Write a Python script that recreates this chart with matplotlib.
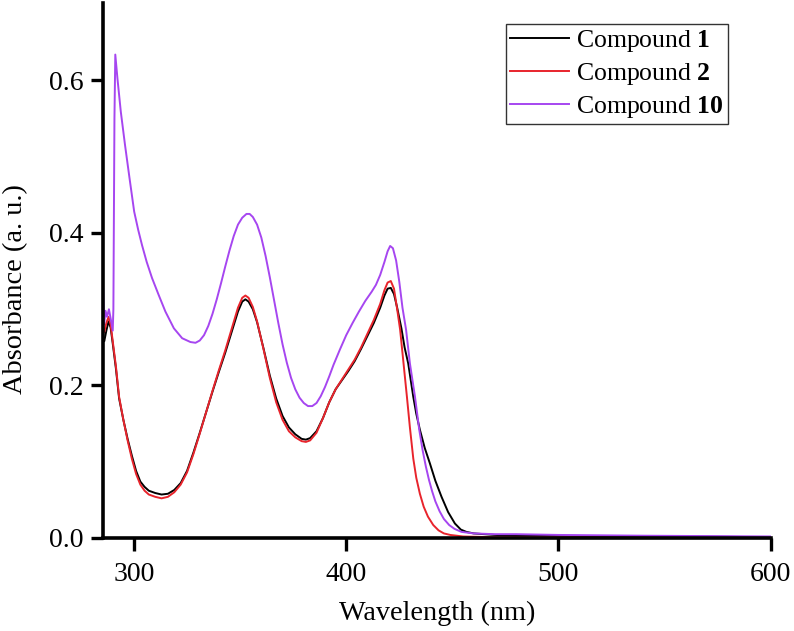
import matplotlib
matplotlib.use("Agg")
import matplotlib.pyplot as plt

plt.rcParams['font.family'] = ['Liberation Serif', 'DejaVu Serif']
plt.rcParams['mathtext.fontset'] = 'custom'
plt.rcParams['mathtext.rm'] = 'Liberation Serif'
plt.rcParams['mathtext.bf'] = 'Liberation Serif:bold'

# Compound 1 (black)
wl_1 = [285.4, 286, 287, 288, 289, 290, 291.5, 293, 295, 297, 299, 301, 303, 305, 307, 310, 313, 316, 319, 322,
        325, 328, 331, 334, 337, 340, 343, 346, 349, 351, 352.5, 354, 356, 358, 361, 364, 367, 370, 373, 376,
        379, 381, 383, 386, 389, 392, 395, 398, 401, 404, 407, 410, 413, 416, 418, 419.5, 421, 422.5, 424, 426,
        427.5, 429.2, 431.6, 433, 434.7, 437, 439.4, 442, 444.9, 448, 451.2, 454, 456.6, 460, 470, 480, 500, 530,
        560, 600]
abs_1 = [0.262, 0.258, 0.272, 0.284, 0.276, 0.255, 0.222, 0.183, 0.155, 0.130, 0.108, 0.088, 0.074, 0.067, 0.062,
         0.059, 0.057, 0.058, 0.063, 0.072, 0.088, 0.112, 0.138, 0.165, 0.192, 0.218, 0.243, 0.270, 0.297, 0.310,
         0.313, 0.310, 0.300, 0.283, 0.249, 0.213, 0.183, 0.160, 0.145, 0.136, 0.130, 0.129, 0.131, 0.140, 0.157,
         0.178, 0.195, 0.207, 0.219, 0.232, 0.248, 0.265, 0.282, 0.302, 0.318, 0.327, 0.328, 0.320, 0.302, 0.275,
         0.250, 0.229, 0.185, 0.163, 0.142, 0.118, 0.098, 0.075, 0.054, 0.034, 0.019, 0.011, 0.008, 0.006, 0.004,
         0.003, 0.003, 0.002, 0.002, 0.001]

# Compound 2 (red)
wl_2 = [285.4, 286, 287, 288, 289, 290, 291.5, 293, 295, 297, 299, 301, 303, 305, 307, 310, 313, 316, 319, 322,
        325, 328, 331, 334, 337, 340, 343, 346, 349, 351, 352.5, 354, 356, 358, 361, 364, 367, 370, 373, 376,
        379, 381, 383, 386, 389, 392, 395, 398, 401, 404, 407, 410, 413, 416, 418, 419.5, 421, 422.5, 424, 425.4,
        427, 428.6, 430, 431.6, 433, 434.7, 436.5, 438.5, 441, 443.5, 446, 449, 455, 470, 600]
abs_2 = [0.275, 0.270, 0.282, 0.290, 0.280, 0.258, 0.225, 0.185, 0.155, 0.128, 0.104, 0.084, 0.070, 0.062, 0.057,
         0.054, 0.052, 0.054, 0.060, 0.070, 0.086, 0.110, 0.137, 0.165, 0.193, 0.220, 0.246, 0.274, 0.302, 0.315,
         0.318, 0.315, 0.303, 0.284, 0.248, 0.210, 0.178, 0.155, 0.140, 0.132, 0.127, 0.126, 0.128, 0.138, 0.157,
         0.178, 0.195, 0.208, 0.221, 0.234, 0.250, 0.268, 0.286, 0.307, 0.325, 0.335, 0.337, 0.327, 0.300, 0.273,
         0.229, 0.185, 0.145, 0.104, 0.079, 0.058, 0.041, 0.028, 0.017, 0.010, 0.006, 0.004, 0.002, 0.001, 0.0]

# Compound 10 (purple)
wl_10 = [285.4, 285.9, 286.6, 287.3, 288.2, 289.2, 290.0, 290.3, 290.8, 291.2, 292.2, 293.8, 295.8, 297.9, 300.1,
         302, 303.8, 306, 308.5, 311.6, 314.8, 318.8, 322.7, 326.6, 329, 331, 333, 335, 337, 339, 341, 343, 345,
         347, 349, 351, 353, 354.5, 356, 358, 360, 362, 364, 366, 368, 370, 372, 374, 376, 378, 380, 382, 384, 386,
         388, 390, 392, 394, 397, 400, 403, 406, 409, 412, 414, 416, 418, 419.5, 420.7, 422, 423.5, 425, 426.5,
         428.2, 430, 432.4, 434.4, 436, 437.5, 439, 440.5, 442, 444, 446, 448.5, 451, 454.3, 460, 470, 480, 500,
         540, 600]
abs_10 = [0.335, 0.280, 0.298, 0.290, 0.300, 0.285, 0.272, 0.300, 0.550, 0.634, 0.603, 0.559, 0.515, 0.472, 0.428,
          0.404, 0.384, 0.362, 0.341, 0.319, 0.297, 0.275, 0.262, 0.257, 0.256, 0.259, 0.266, 0.278, 0.294, 0.313,
          0.334, 0.356, 0.377, 0.396, 0.411, 0.420, 0.425, 0.425, 0.421, 0.411, 0.394, 0.370, 0.342, 0.312, 0.282,
          0.254, 0.230, 0.210, 0.195, 0.184, 0.177, 0.173, 0.173, 0.177, 0.186, 0.198, 0.212, 0.227, 0.247, 0.266,
          0.282, 0.297, 0.311, 0.323, 0.332, 0.345, 0.362, 0.376, 0.383, 0.380, 0.364, 0.336, 0.302, 0.273, 0.229,
          0.185, 0.142, 0.115, 0.094, 0.076, 0.061, 0.048, 0.035, 0.025, 0.017, 0.012, 0.008, 0.006, 0.005, 0.005,
          0.004, 0.003, 0.002]

labels = ['Compound $\\mathbf{1}$', 'Compound $\\mathbf{2}$', 'Compound $\\mathbf{10}$']
colors = ['#000000', '#e8242c', '#a646f0']
x_ticks = [300, 400, 500, 600]
y_ticks = [0.0, 0.2, 0.4, 0.6]
y_tick_labels = ['0.0', '0.2', '0.4', '0.6']

fig = plt.figure(figsize=(7.94, 6.31), dpi=100)
ax = fig.add_axes([0.1297, 0.1474, 0.8410, 0.8478])

for wl, ab, lab, c in zip([wl_1, wl_2, wl_10], [abs_1, abs_2, abs_10], labels, colors):
    ax.plot(wl, ab, color=c, lw=1.4, label=lab)

ax.set_xlim(285.4, 600)
ax.set_ylim(0, 0.7016)
ax.set_xticks(x_ticks)
ax.set_yticks(y_ticks)
ax.set_yticklabels(y_tick_labels)

for s in ['top', 'right']:
    ax.spines[s].set_visible(False)
for s in ['left', 'bottom']:
    ax.spines[s].set_linewidth(2.6)

ax.tick_params(direction='out', length=9, width=2.4, labelsize=20)
ax.tick_params(axis='x', pad=8)
ax.tick_params(axis='y', pad=5)
ax.set_xlabel('Wavelength (nm)', fontsize=20.3, labelpad=10)
ax.set_ylabel('Absorbance (a. u.)', fontsize=20.4)
ax.yaxis.set_label_coords(-0.112, 0.465)

leg = ax.legend(loc='upper right', bbox_to_anchor=(0.936, 0.961), borderaxespad=0,
                fontsize=18.5, frameon=True, fancybox=False, edgecolor='black',
                handlelength=2.3, handletextpad=0.3, labelspacing=0.28, borderpad=0.15)
leg.get_frame().set_linewidth(1.0)

fig.savefig('out.png', dpi=100)
